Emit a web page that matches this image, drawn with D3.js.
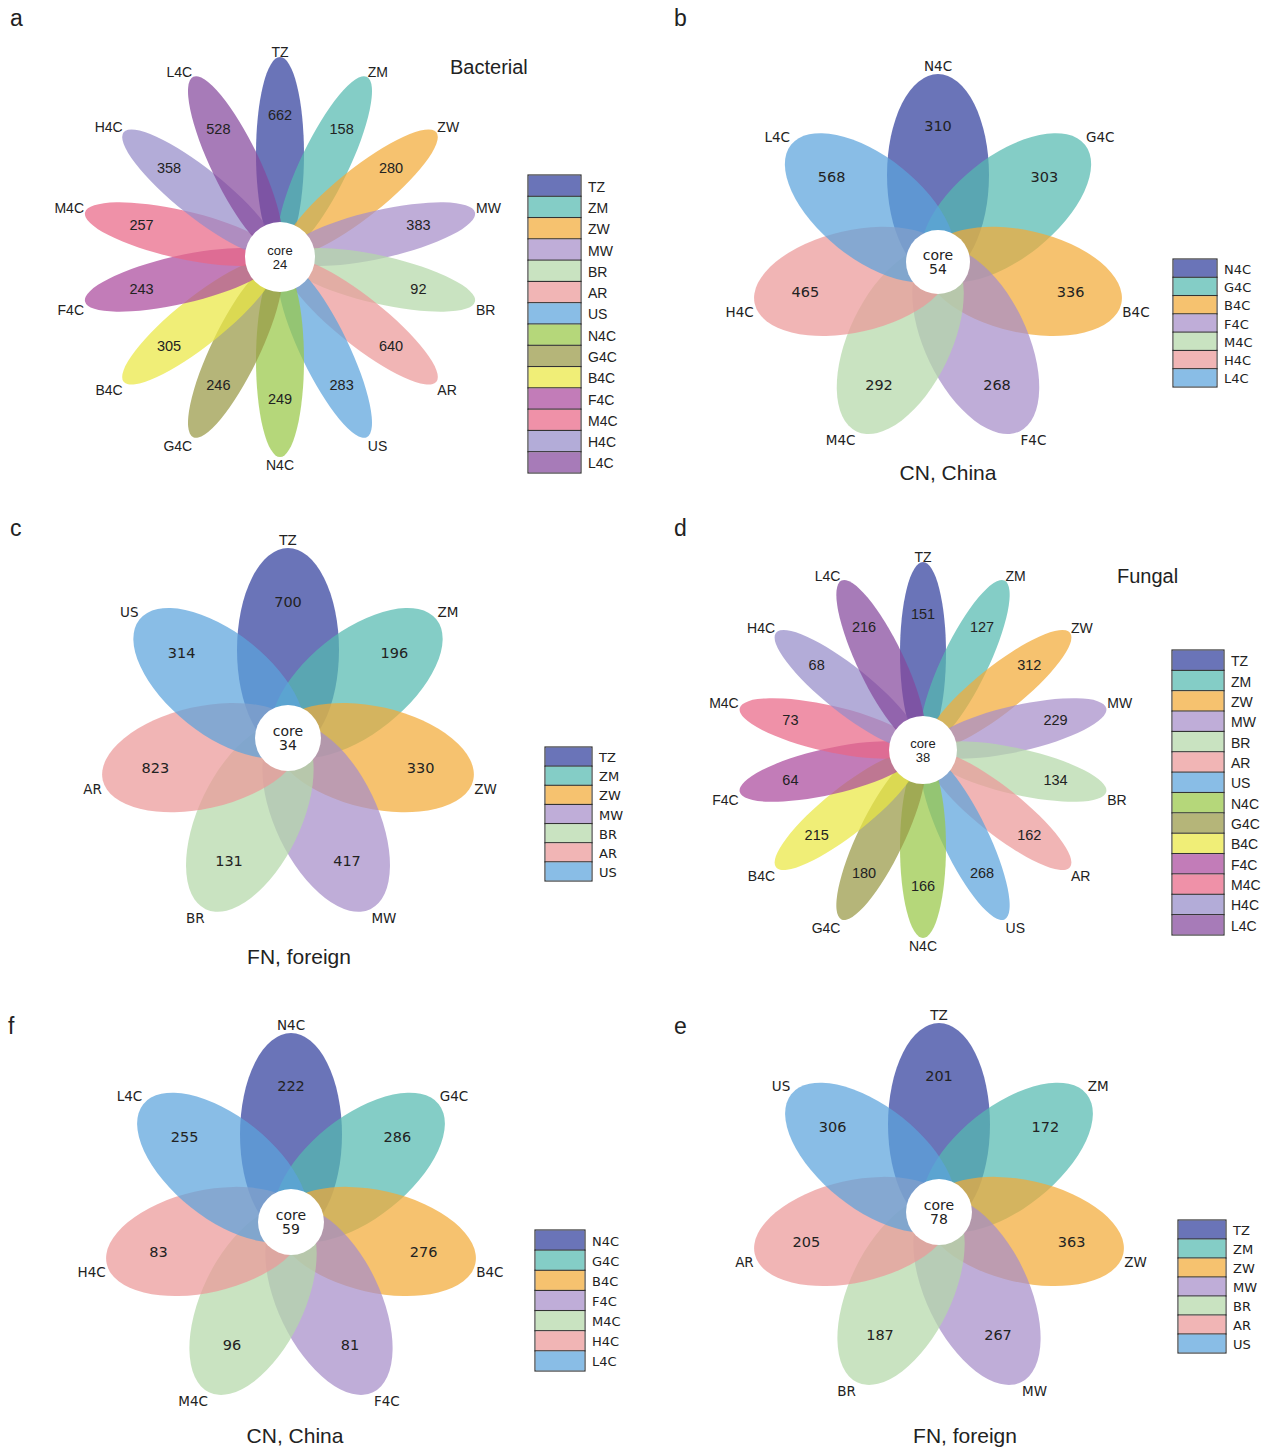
<!DOCTYPE html>
<html>
<head>
<meta charset="utf-8">
<script src="https://cdn.jsdelivr.net/npm/d3@7"></script>
<style>
  body { margin: 0; background: #fff; }
  svg text { fill: #222; }
</style>
</head>
<body>
<div id="chart"></div>
<script>
// sample names, clockwise from the top petal
var allSamples = ['TZ', 'ZM', 'ZW', 'MW', 'BR', 'AR', 'US', 'N4C', 'G4C', 'B4C', 'F4C', 'M4C', 'H4C', 'L4C'];
var cnSamples = ['N4C', 'G4C', 'B4C', 'F4C', 'M4C', 'H4C', 'L4C'];
var fnSamples = ['TZ', 'ZM', 'ZW', 'MW', 'BR', 'AR', 'US'];

// unique OTU counts per petal
var bacAllCounts = [662, 158, 280, 383, 92, 640, 283, 249, 246, 305, 243, 257, 358, 528];
var bacCnCounts = [310, 303, 336, 268, 292, 465, 568];
var bacFnCounts = [700, 196, 330, 417, 131, 823, 314];
var funAllCounts = [151, 127, 312, 229, 134, 162, 268, 166, 180, 215, 64, 73, 68, 216];
var funCnCounts = [222, 286, 276, 81, 96, 83, 255];
var funFnCounts = [201, 172, 363, 267, 187, 205, 306];

// shared (core) counts
var coreCounts = { a: 24, b: 54, c: 34, d: 38, f: 59, e: 78 };

// petal colours (drawn at partial opacity)
var palette = ['#313e9c', '#54bab0', '#f2aa37', '#a68ec9', '#b4d8a9', '#ec9898', '#5ca3dc',
  '#98c746', '#989845', '#eae743', '#aa499c', '#e96686', '#958cc9', '#85489c'];
var petalOpacity = 0.72;

var svg = d3.select('#chart')
  .append('svg')
  .attr('width', 1267)
  .attr('height', 1449);

var panels = [
  { id: 'a', names: allSamples, counts: bacAllCounts, cx: 280, cy: 257, tip: 200, inner: 6, minor: 24,
    numR: 142, coreR: 35, title: 'Bacterial', tx: 450, ty: 67,
    leg: { x: 528, y: 175, w: 53, h: 298 }, letter: [10, 26], small: true },
  { id: 'b', names: cnSamples, counts: bacCnCounts, cx: 938, cy: 262, tip: 188, inner: -14, minor: 51,
    numR: 136, coreR: 32, sub: 'CN, China', sx: 948, sy: 472,
    leg: { x: 1173, y: 259, w: 44, h: 128 }, letter: [674, 26] },
  { id: 'c', names: fnSamples, counts: bacFnCounts, cx: 288, cy: 738, tip: 190, inner: -14, minor: 51,
    numR: 136, coreR: 33, sub: 'FN, foreign', sx: 299, sy: 956,
    leg: { x: 545, y: 747, w: 47, h: 134 }, letter: [10, 536] },
  { id: 'd', names: allSamples, counts: funAllCounts, cx: 923, cy: 750, tip: 188, inner: 6, minor: 23,
    numR: 136, coreR: 34, title: 'Fungal', tx: 1117, ty: 576,
    leg: { x: 1172, y: 650, w: 52, h: 285 }, letter: [674, 536], small: true },
  { id: 'f', names: cnSamples, counts: funCnCounts, cx: 291, cy: 1222, tip: 189, inner: -14, minor: 51,
    numR: 136, coreR: 33, sub: 'CN, China', sx: 295, sy: 1435,
    leg: { x: 535, y: 1230, w: 50, h: 141 }, letter: [8, 1034] },
  { id: 'e', names: fnSamples, counts: funFnCounts, cx: 939, cy: 1212, tip: 189, inner: -14, minor: 51,
    numR: 136, coreR: 33, sub: 'FN, foreign', sx: 965, sy: 1435,
    leg: { x: 1178, y: 1220, w: 48, h: 133 }, letter: [674, 1034] }
];

panels.forEach(drawFlower);

function drawFlower(p) {
  var n = p.names.length;
  var angle = d3.scaleLinear().domain([0, n]).range([-90, 270]);
  var rad = d => angle(d) * Math.PI / 180;
  var petalFont = p.small ? '"Liberation Sans", Arial, sans-serif' : '"DejaVu Sans", sans-serif';

  var g = svg.append('g').attr('transform', `translate(${p.cx}, ${p.cy})`);

  // petals
  var mid = (p.tip + p.inner) / 2;
  var major = (p.tip - p.inner) / 2;
  g.selectAll('ellipse.petal')
    .data(p.names)
    .enter()
    .append('ellipse')
    .attr('class', 'petal')
    .attr('transform', (d, i) => `rotate(${angle(i)})`)
    .attr('cx', mid)
    .attr('cy', 0)
    .attr('rx', major)
    .attr('ry', p.minor)
    .attr('fill', (d, i) => palette[i])
    .attr('fill-opacity', petalOpacity);

  // counts inside petals
  g.selectAll('text.count')
    .data(p.counts)
    .enter()
    .append('text')
    .attr('class', 'count')
    .attr('x', (d, i) => p.numR * Math.cos(rad(i)))
    .attr('y', (d, i) => p.numR * Math.sin(rad(i)))
    .attr('text-anchor', 'middle')
    .attr('dominant-baseline', 'central')
    .style('font-family', petalFont)
    .style('font-size', p.small ? '14.5px' : '14.5px')
    .text(d => d);

  // sample names at the petal tips
  g.selectAll('text.name')
    .data(p.names)
    .enter()
    .append('text')
    .attr('class', 'name')
    .each(function(d, i) {
      var c = Math.cos(rad(i)), s = Math.sin(rad(i));
      var x = p.tip * c, y = p.tip * s;
      var anchor = Math.abs(c) < 0.01 ? 'middle' : (c > 0 ? 'start' : 'end');
      d3.select(this)
        .attr('x', x + (anchor === 'middle' ? 0 : (c > 0 ? 1 : -1)))
        .attr('y', s < 0 ? y - (p.small ? 0 : 3) : y + 3)
        .attr('text-anchor', anchor)
        .attr('dominant-baseline', s < 0 ? 'alphabetic' : 'hanging');
    })
    .style('font-family', petalFont)
    .style('font-size', p.small ? '14px' : '13.5px')
    .text(d => d);

  // core
  g.append('circle')
    .attr('r', p.coreR)
    .attr('fill', '#fff');
  g.append('text')
    .attr('y', -7)
    .attr('text-anchor', 'middle')
    .attr('dominant-baseline', 'central')
    .style('font-family', petalFont)
    .style('font-size', p.small ? '13px' : '14px')
    .text('core');
  g.append('text')
    .attr('y', 7)
    .attr('text-anchor', 'middle')
    .attr('dominant-baseline', 'central')
    .style('font-family', petalFont)
    .style('font-size', p.small ? '13px' : '14px')
    .text(coreCounts[p.id]);

  // legend
  var yLeg = d3.scaleBand().domain(p.names).range([p.leg.y, p.leg.y + p.leg.h]);
  var leg = svg.append('g');
  leg.selectAll('rect')
    .data(p.names)
    .enter()
    .append('rect')
    .attr('x', p.leg.x)
    .attr('y', d => yLeg(d))
    .attr('width', p.leg.w)
    .attr('height', yLeg.bandwidth())
    .attr('fill', '#fff')
    .attr('stroke', '#333')
    .attr('stroke-width', 1.2);
  leg.selectAll('rect.sw')
    .data(p.names)
    .enter()
    .append('rect')
    .attr('class', 'sw')
    .attr('x', p.leg.x + 0.6)
    .attr('y', d => yLeg(d) + 0.6)
    .attr('width', p.leg.w - 1.2)
    .attr('height', yLeg.bandwidth() - 1.2)
    .attr('fill', (d, i) => palette[i])
    .attr('fill-opacity', petalOpacity);
  leg.selectAll('text')
    .data(p.names)
    .enter()
    .append('text')
    .attr('x', p.leg.x + p.leg.w + 7)
    .attr('y', d => yLeg(d) + yLeg.bandwidth() / 2 + 1)
    .attr('dominant-baseline', 'central')
    .style('font-family', petalFont)
    .style('font-size', p.small ? '14px' : '13px')
    .text(d => d);

  if (p.title) {
    svg.append('text')
      .attr('x', p.tx)
      .attr('y', p.ty)
      .attr('dominant-baseline', 'central')
      .style('font-family', '"Liberation Sans", Arial, sans-serif')
      .style('font-size', '20px')
      .text(p.title);
  }
  if (p.sub) {
    svg.append('text')
      .attr('x', p.sx)
      .attr('y', p.sy)
      .attr('text-anchor', 'middle')
      .attr('dominant-baseline', 'central')
      .style('font-family', '"Liberation Sans", Arial, sans-serif')
      .style('font-size', '21px')
      .text(p.sub);
  }

  svg.append('text')
    .attr('x', p.letter[0])
    .attr('y', p.letter[1])
    .style('font-family', '"Liberation Sans", Arial, sans-serif')
    .style('font-size', '23px')
    .text(p.id);
}
</script>
</body>
</html>
